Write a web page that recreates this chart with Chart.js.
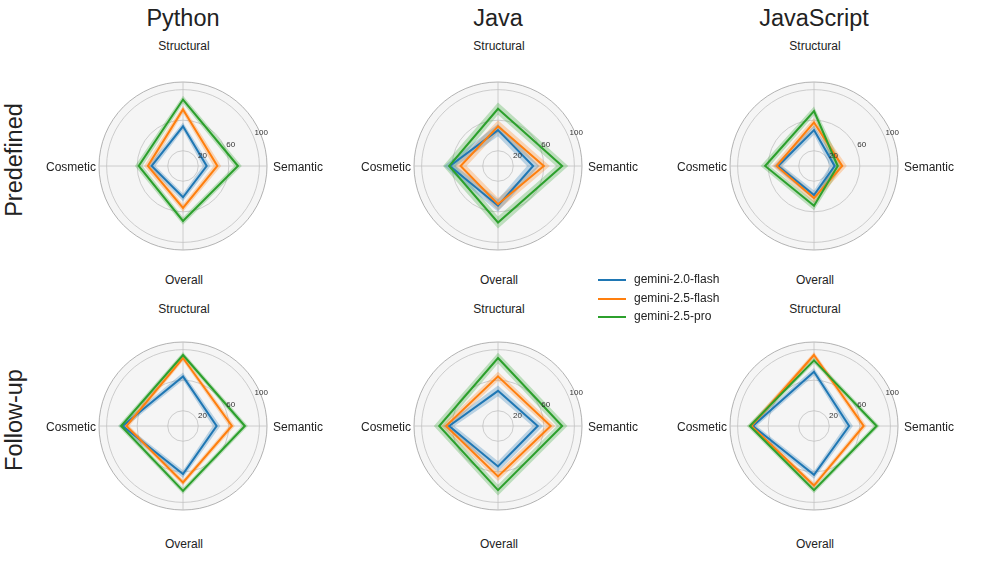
<!DOCTYPE html>
<html>
<head>
<meta charset="utf-8">
<script src="https://cdn.jsdelivr.net/npm/chart.js@4"></script>
<style>
  body { margin: 0; background: #fff; width: 997px; height: 561px; position: relative; overflow: hidden;
         font-family: "Liberation Sans", Arial, sans-serif; color: #222; }
  .t { position: absolute; white-space: nowrap; line-height: 1; transform: translate(-50%, -50%); }
  canvas { position: absolute; }
  .leg { position: absolute; left: 598px; width: 160px; font-size: 12px; }
  .leg div { position: relative; height: 18.5px; }
  .leg span.ln { position: absolute; left: 0; top: 0; width: 28px; height: 2px; }
  .leg span.tx { position: absolute; left: 36px; top: -6px; line-height: 12px; white-space: nowrap; }
</style>
</head>
<body>
<script>
// radar axes, clockwise from the top
const axisNames = ['Structural', 'Semantic', 'Overall', 'Cosmetic'];
const languages = ['Python', 'Java', 'JavaScript'];
const settings = ['Predefined', 'Follow-up'];
const models = ['gemini-2.0-flash', 'gemini-2.5-flash', 'gemini-2.5-pro'];
const colors = ['#1f77b4', '#ff7f0e', '#2ca02c'];
const bandColors = ['rgba(31,119,180,0.28)', 'rgba(255,127,14,0.28)', 'rgba(44,160,44,0.28)'];
const radialTicks = [20, 60, 100];

// mean scores, one row per panel: Python, Java, JavaScript (predefined), then the same for follow-up
const flash20Mean = [[52, 31, 41, 41], [47, 46, 52, 63], [47, 27, 38, 47], [65, 44, 63, 79], [46, 52, 53, 64], [71, 46, 64, 80]];
const flash25Mean = [[74, 45, 55, 46], [52, 60, 50, 49], [57, 37, 42, 49], [89, 64, 74, 74], [65, 69, 66, 68], [93, 65, 78, 82]];
const pro25Mean   = [[87, 72, 72, 58], [75, 84, 74, 64], [72, 31, 52, 64], [93, 81, 85, 81], [89, 84, 84, 77], [86, 82, 84, 84]];
// spread shown as the shaded band
const flash20Sd = [5, 8, 6, 5, 7, 5];
const flash25Sd = [5, 8, 6, 4, 6, 4];
const pro25Sd   = [5, 8, 6, 4, 7, 4];

const means = [flash20Mean, flash25Mean, pro25Mean];
const sds = [flash20Sd, flash25Sd, pro25Sd];

const centersX = [183, 498, 814];
const centersY = [166, 426];
const SIZE = 200, PAD = 16;

function addText(txt, x, y, size, extra) {
  const d = document.createElement('div');
  d.className = 't';
  d.textContent = txt;
  d.style.left = x + 'px';
  d.style.top = y + 'px';
  d.style.fontSize = size + 'px';
  if (extra) Object.assign(d.style, extra);
  document.body.appendChild(d);
  return d;
}

const bgPlugin = {
  id: 'polarBg',
  beforeDraw(chart) {
    const s = chart.scales.r, c = chart.ctx;
    c.save();
    c.beginPath();
    c.arc(s.xCenter, s.yCenter, s.drawingArea, 0, Math.PI * 2);
    c.fillStyle = '#f5f5f5';
    c.fill();
    c.restore();
  }
};

const tickPlugin = {
  id: 'rTicks',
  afterDatasetsDraw(chart) {
    const s = chart.scales.r, c = chart.ctx;
    const a = 67.5 * Math.PI / 180;
    c.save();
    c.font = '8px "Liberation Sans", Arial, sans-serif';
    c.fillStyle = '#333';
    c.textAlign = 'left';
    c.textBaseline = 'bottom';
    radialTicks.forEach(v => {
      const r = s.getDistanceFromCenterForValue(v);
      c.fillText(String(v), s.xCenter + r * Math.sin(a) + 1, s.yCenter - r * Math.cos(a));
    });
    c.restore();
  }
};

settings.forEach((setting, row) => {
  languages.forEach((lang, col) => {
    const p = row * 3 + col;
    const cx = centersX[col], cy = centersY[row];
    const datasets = [];
    models.forEach((m, k) => {
      const mean = means[k][p], sd = sds[k][p];
      datasets.push({ data: mean.map(v => Math.min(110, v + sd)), fill: '+1', backgroundColor: bandColors[k],
                      borderColor: 'transparent', borderWidth: 0, pointRadius: 0, order: 10 });
      datasets.push({ data: mean.map(v => Math.max(0, v - sd)), fill: false,
                      borderColor: 'transparent', borderWidth: 0, pointRadius: 0, order: 10 });
    });
    models.forEach((m, k) => {
      datasets.push({ label: m, data: means[k][p], fill: false, borderColor: colors[k],
                      borderWidth: 2, pointRadius: 0, order: 3 - k });
    });

    const cv = document.createElement('canvas');
    cv.width = SIZE; cv.height = SIZE;
    cv.style.width = SIZE + 'px'; cv.style.height = SIZE + 'px';
    cv.style.left = (cx - SIZE / 2) + 'px';
    cv.style.top = (cy - SIZE / 2) + 'px';
    document.body.appendChild(cv);

    new Chart(cv, {
      type: 'radar',
      data: { labels: axisNames, datasets: datasets },
      options: {
        responsive: false,
        animation: false,
        layout: { padding: PAD },
        elements: { line: { tension: 0 } },
        plugins: { legend: { display: false }, tooltip: { enabled: false } },
        scales: {
          r: {
            min: 0,
            max: 110,
            afterBuildTicks: s => { s.ticks = [0, ...radialTicks, 110].map(v => ({ value: v })); },
            ticks: { display: false },
            grid: { circular: true, lineWidth: 0.8,
                    color: ctx => (ctx.tick && ctx.tick.value === 110) ? '#a0a0a0' : '#c2c2c2' },
            angleLines: { color: '#c2c2c2', lineWidth: 0.8 },
            pointLabels: { display: false }
          }
        }
      },
      plugins: [bgPlugin, tickPlugin]
    });

    // axis names around each radar
    const topOff = row === 0 ? -120 : -117;
    const botOff = row === 0 ? 114 : 118;
    addText(axisNames[0], cx + 1, cy + topOff, 12);
    addText(axisNames[2], cx + 1, cy + botOff, 12);
    addText(axisNames[1], cx + 90, cy + 1, 12, { transform: 'translate(0,-50%)' });
    addText(axisNames[3], cx - 87, cy + 1, 12, { transform: 'translate(-100%,-50%)' });
  });
});

languages.forEach((lang, col) => addText(lang, centersX[col], 19, 23.5));
addText(settings[0], 15, 160, 23.5, { transform: 'translate(-50%,-50%) rotate(-90deg)' });
addText(settings[1], 15, 420, 23.5, { transform: 'translate(-50%,-50%) rotate(-90deg)' });

const leg = document.createElement('div');
leg.className = 'leg';
leg.style.top = '279px';
models.forEach((m, k) => {
  const r = document.createElement('div');
  r.innerHTML = '<span class="ln" style="background:' + colors[k] + '"></span><span class="tx">' + m + '</span>';
  leg.appendChild(r);
});
document.body.appendChild(leg);
</script>
</body>
</html>
